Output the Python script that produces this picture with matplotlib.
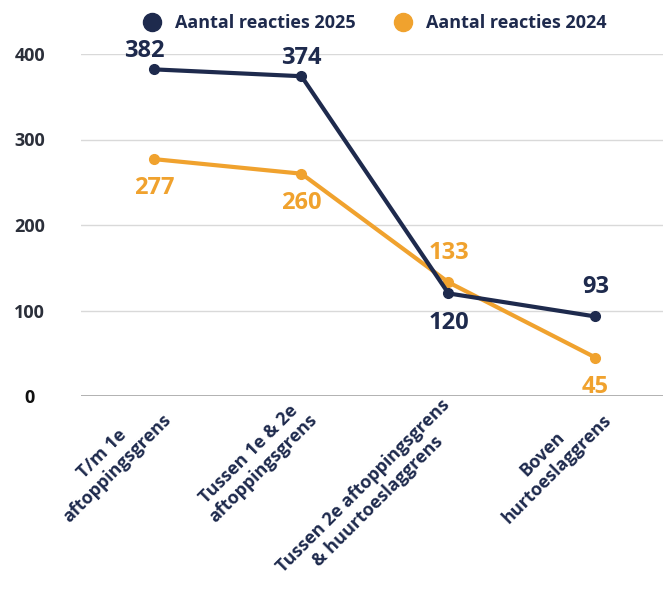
import matplotlib
matplotlib.use('Agg')
import matplotlib.pyplot as plt
from matplotlib.lines import Line2D
from matplotlib.transforms import ScaledTranslation

plt.rcParams['font.family'] = ['Open Sans', 'DejaVu Sans']
plt.rcParams['font.weight'] = 'bold'

# data
categories = ['T/m 1e\naftoppingsgrens',
              'Tussen 1e & 2e\naftoppingsgrens',
              'Tussen 2e aftoppingsgrens\n& huurtoeslaggrens',
              'Boven\nhurtoeslaggrens']
reacties_2025 = [382, 374, 120, 93]
reacties_2024 = [277, 260, 133, 45]
# label above (True) or below (False) the point
boven_2025 = [True, True, False, True]
boven_2024 = [False, False, True, False]
yticks = [0, 100, 200, 300, 400]

navy = '#1e2a4d'
orange = '#f0a22e'

fig = plt.figure(figsize=(6.63, 5.97), dpi=100)
ax = fig.add_axes([81/663, 1 - 396/597, 1 - 81/663, 342/597])

x = list(range(len(categories)))
ax.plot(x, reacties_2024, color=orange, lw=3, marker='o', ms=7, clip_on=False, zorder=3)
ax.plot(x, reacties_2025, color=navy, lw=3, marker='o', ms=7, clip_on=False, zorder=4)

def labels(vals, above, col):
    for i, (v, a) in enumerate(zip(vals, above)):
        off = 21 if a else -21
        dx = 0
        if a and v > 350:
            off = 13
            if i == 0:
                dx = -7  # label bij de rand iets naar links
        ax.annotate(str(v), (i, v), xytext=(dx, off), textcoords='offset points',
                    ha='center', va='center', fontsize=17, fontweight='bold', color=col)

labels(reacties_2025, boven_2025, navy)
labels(reacties_2024, boven_2024, orange)

ax.set_xlim(-0.5, 3.46)
ax.set_ylim(0, 400)
ax.set_yticks(yticks)
ax.set_yticklabels([str(t) for t in yticks])
for t in ax.get_yticklabels():
    t.set_ha('center')
    t.set_fontsize(13)
    t.set_fontweight('bold')
    t.set_color('#2b2f3a')
ax.get_yticklabels()[0].set_color('#111111')
ax.tick_params(axis='y', length=0, pad=37)
ax.grid(axis='y', color='#d9d9d9', lw=1)
ax.axhline(0, color='#9a9a9a', lw=1.2, zorder=1)
for s in ax.spines.values():
    s.set_visible(False)

ax.set_xticks(x)
ax.set_xticklabels(categories, rotation=45, ha='right', va='center',
                   rotation_mode='anchor', multialignment='center',
                   fontsize=13, fontweight='bold', color=navy)
ax.tick_params(axis='x', length=0, pad=10)
for t in ax.get_xticklabels():
    t.set_transform(t.get_transform() + ScaledTranslation(6/100, 0, fig.dpi_scale_trans))
    t.set_linespacing(1.2)

handles = [Line2D([], [], ls='none', marker='o', ms=13, color=navy),
           Line2D([], [], ls='none', marker='o', ms=13, color=orange)]
fig.legend(handles, ['Aantal reacties 2025', 'Aantal reacties 2024'],
           loc='center', bbox_to_anchor=(370 / 663, 1 - 23/597), ncol=2,
           frameon=False, handletextpad=0.3, columnspacing=1.6,
           labelcolor=navy, prop={'weight': 'bold', 'size': 13})

fig.savefig('out.png', dpi=100)
